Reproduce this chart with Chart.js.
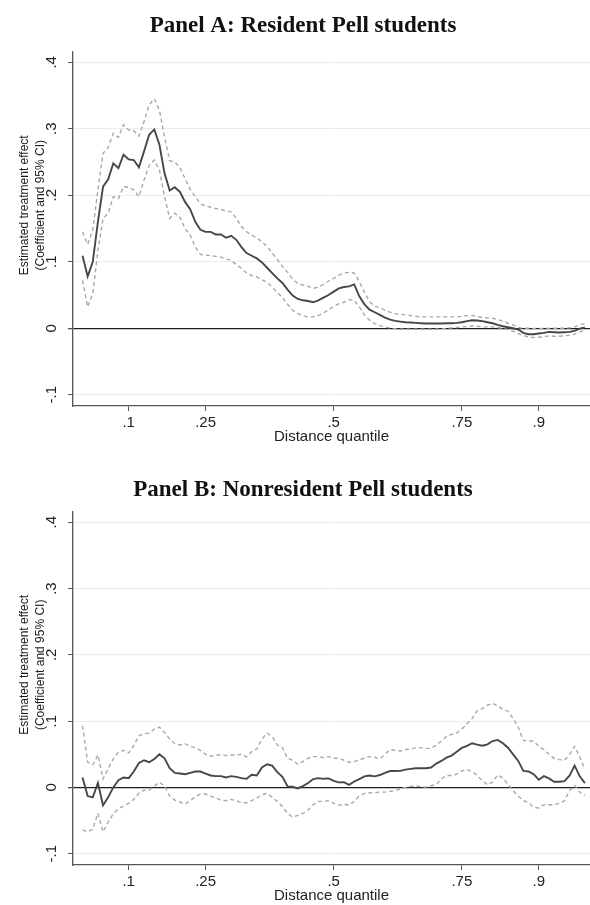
<!DOCTYPE html>
<html>
<head>
<meta charset="utf-8">
<script src="https://cdn.jsdelivr.net/npm/chart.js@4.4.1/dist/chart.umd.min.js"></script>
<style>
  body { margin: 0; background: #fff; }
  canvas { display: block; }
</style>
</head>
<body>
<canvas id="panelA" width="590" height="460"></canvas>
<canvas id="panelB" width="590" height="445"></canvas>
<script>
// distance quantiles (x)
const quantiles = [
  0.01, 0.02, 0.03, 0.04, 0.05, 0.06, 0.07, 0.08, 0.09, 0.10,
  0.11, 0.12, 0.13, 0.14, 0.15, 0.16, 0.17, 0.18, 0.19, 0.20,
  0.21, 0.22, 0.23, 0.24, 0.25, 0.26, 0.27, 0.28, 0.29, 0.30,
  0.31, 0.32, 0.33, 0.34, 0.35, 0.36, 0.37, 0.38, 0.39, 0.40,
  0.41, 0.42, 0.43, 0.44, 0.45, 0.46, 0.47, 0.48, 0.49, 0.50,
  0.51, 0.52, 0.53, 0.54, 0.55, 0.56, 0.57, 0.58, 0.59, 0.60,
  0.61, 0.62, 0.63, 0.64, 0.65, 0.66, 0.67, 0.68, 0.69, 0.70,
  0.71, 0.72, 0.73, 0.74, 0.75, 0.76, 0.77, 0.78, 0.79, 0.80,
  0.81, 0.82, 0.83, 0.84, 0.85, 0.86, 0.87, 0.88, 0.89, 0.90,
  0.91, 0.92, 0.93, 0.94, 0.95, 0.96, 0.97, 0.98, 0.99
];

const xTickValues = [0.1, 0.25, 0.5, 0.75, 0.9];
const yTickValues = [-0.1, 0, 0.1, 0.2, 0.3, 0.4];

// Panel A: resident Pell students
const residentCoef = [
  0.109, 0.078, 0.100, 0.160, 0.213, 0.224, 0.248, 0.241, 0.261, 0.254,
  0.253, 0.242, 0.266, 0.291, 0.299, 0.276, 0.233, 0.207, 0.212, 0.205,
  0.190, 0.179, 0.160, 0.148, 0.145, 0.145, 0.141, 0.141, 0.136, 0.139,
  0.133, 0.122, 0.113, 0.109, 0.105, 0.099, 0.091, 0.083, 0.075, 0.068,
  0.058, 0.049, 0.044, 0.042, 0.041, 0.039, 0.042, 0.046, 0.050, 0.055,
  0.060, 0.062, 0.063, 0.066, 0.048, 0.036, 0.028, 0.024, 0.020, 0.016,
  0.013, 0.011, 0.010, 0.009, 0.0085, 0.008, 0.0075, 0.007, 0.007, 0.007,
  0.007, 0.0075, 0.0075, 0.008, 0.009, 0.0106, 0.012, 0.0116, 0.0106, 0.009,
  0.0075, 0.005, 0.003, 0.0015, 0, -0.002, -0.007, -0.009, -0.009, -0.008,
  -0.007, -0.0055, -0.006, -0.0065, -0.006, -0.0055, -0.004, -0.0005, 0.001
];
const residentUpper = [
  0.145, 0.126, 0.148, 0.208, 0.263, 0.272, 0.293, 0.287, 0.306, 0.298,
  0.297, 0.289, 0.311, 0.336, 0.345, 0.328, 0.288, 0.252, 0.250, 0.242,
  0.225, 0.209, 0.198, 0.187, 0.184, 0.182, 0.180, 0.179, 0.176, 0.175,
  0.165, 0.153, 0.145, 0.140, 0.136, 0.130, 0.123, 0.113, 0.103, 0.093,
  0.084, 0.074, 0.067, 0.065, 0.063, 0.060, 0.062, 0.066, 0.071, 0.075,
  0.080, 0.083, 0.084, 0.083, 0.070, 0.054, 0.040, 0.033, 0.031, 0.027,
  0.024, 0.022, 0.021, 0.020, 0.019, 0.018, 0.017, 0.017, 0.017, 0.017,
  0.017, 0.017, 0.017, 0.017, 0.018, 0.019, 0.019, 0.018, 0.016, 0.0156,
  0.015, 0.013, 0.0106, 0.0075, 0.005, 0.001, 0, 0, -0.0005, -0.0005,
  -0.0005, 0, 0, 0, 0, 0.0005, 0.002, 0.005, 0.007
];
const residentLower = [
  0.072, 0.032, 0.052, 0.117, 0.165, 0.173, 0.198, 0.195, 0.213, 0.212,
  0.208, 0.198, 0.223, 0.245, 0.253, 0.238, 0.198, 0.165, 0.173, 0.167,
  0.150, 0.140, 0.122, 0.111, 0.110, 0.109, 0.108, 0.107, 0.104, 0.102,
  0.096, 0.090, 0.083, 0.079, 0.077, 0.073, 0.069, 0.062, 0.054, 0.046,
  0.036, 0.027, 0.022, 0.019, 0.017, 0.017, 0.019, 0.023, 0.028, 0.033,
  0.037, 0.039, 0.043, 0.042, 0.032, 0.020, 0.012, 0.007, 0.004, 0.002,
  0.0005, -0.001, -0.0015, -0.0015, -0.0015, -0.0015, -0.0015, -0.0015, -0.0015, -0.0015,
  -0.001, 0, 0.0005, 0.001, 0.002, 0.0025, 0.0035, 0.003, 0.002, 0.002,
  0.002, 0.001, -0.0005, -0.002, -0.0045, -0.008, -0.011, -0.013, -0.014, -0.0135,
  -0.013, -0.0115, -0.012, -0.012, -0.0115, -0.0105, -0.009, -0.0055, -0.003
];

// Panel B: nonresident Pell students
const nonresidentCoef = [
  0.015, -0.013, -0.015, 0.007, -0.027, -0.015, 0, 0.011, 0.015, 0.014,
  0.024, 0.037, 0.041, 0.038, 0.043, 0.050, 0.044, 0.029, 0.022, 0.021,
  0.020, 0.022, 0.024, 0.024, 0.021, 0.018, 0.017, 0.017, 0.015, 0.017,
  0.016, 0.014, 0.013, 0.019, 0.018, 0.030, 0.035, 0.033, 0.023, 0.016,
  0.0015, 0.001, -0.0015, 0.002, 0.0066, 0.0126, 0.014, 0.013, 0.0136, 0.010,
  0.0076, 0.008, 0.004, 0.009, 0.0126, 0.0167, 0.018, 0.0167, 0.0187, 0.022,
  0.0247, 0.0247, 0.025, 0.0268, 0.028, 0.029, 0.029, 0.029, 0.030, 0.036,
  0.040, 0.045, 0.048, 0.054, 0.0596, 0.0626, 0.0667, 0.0646, 0.063, 0.065,
  0.070, 0.0717, 0.0667, 0.060, 0.050, 0.040, 0.025, 0.024, 0.020, 0.0116,
  0.017, 0.0136, 0.0086, 0.0086, 0.0096, 0.0177, 0.033, 0.0167, 0.0066
];
const nonresidentUpper = [
  0.093, 0.038, 0.034, 0.049, 0.013, 0.028, 0.043, 0.053, 0.056, 0.052,
  0.063, 0.078, 0.081, 0.082, 0.088, 0.091, 0.083, 0.073, 0.066, 0.064,
  0.066, 0.062, 0.060, 0.056, 0.050, 0.047, 0.049, 0.049, 0.048, 0.049,
  0.049, 0.050, 0.046, 0.054, 0.058, 0.073, 0.082, 0.077, 0.064, 0.060,
  0.044, 0.041, 0.035, 0.039, 0.044, 0.0465, 0.0465, 0.045, 0.0465, 0.044,
  0.044, 0.041, 0.038, 0.039, 0.042, 0.044, 0.0465, 0.0455, 0.043, 0.050,
  0.057, 0.056, 0.055, 0.057, 0.058, 0.060, 0.060, 0.059, 0.059, 0.064,
  0.070, 0.077, 0.080, 0.082, 0.088, 0.096, 0.104, 0.116, 0.119, 0.124,
  0.127, 0.123, 0.118, 0.115, 0.104, 0.091, 0.071, 0.070, 0.070, 0.062,
  0.057, 0.050, 0.044, 0.042, 0.041, 0.050, 0.062, 0.046, 0.027
];
const nonresidentLower = [
  -0.064, -0.067, -0.063, -0.039, -0.067, -0.052, -0.040, -0.032, -0.028, -0.024,
  -0.018, -0.009, -0.004, -0.004, 0.002, 0.008, 0.002, -0.013, -0.019, -0.022,
  -0.025, -0.020, -0.014, -0.010, -0.010, -0.013, -0.016, -0.019, -0.020, -0.018,
  -0.020, -0.023, -0.023, -0.020, -0.016, -0.011, -0.009, -0.015, -0.021, -0.029,
  -0.039, -0.045, -0.042, -0.039, -0.034, -0.026, -0.021, -0.021, -0.020, -0.024,
  -0.027, -0.025, -0.027, -0.021, -0.013, -0.009, -0.008, -0.008, -0.007, -0.007,
  -0.006, -0.005, -0.002, 0, 0.0015, 0.0025, 0.001, 0.0005, 0.0025, 0.0045,
  0.013, 0.018, 0.018, 0.020, 0.025, 0.027, 0.024, 0.018, 0.010, 0.004,
  0.008, 0.019, 0.014, 0.005, -0.005, -0.013, -0.020, -0.023, -0.030, -0.031,
  -0.026, -0.026, -0.026, -0.024, -0.020, -0.005, 0.003, -0.007, -0.012
];

const sansFont = "'Liberation Sans', Arial, sans-serif";

function stataLabel(v) {
  // Stata style: no leading zero
  return String(Number(v.toFixed(2))).replace(/^(-?)0\./, "$1.");
}

function toPoints(values) {
  return quantiles.map((q, i) => ({ x: q, y: values[i] }));
}

// panel title and two-line y-axis title, drawn by hand so they sit where Stata put them
const panelText = {
  id: "panelText",
  afterDraw(chart, args, opts) {
    const ctx = chart.ctx;
    const yScale = chart.scales.y;

    ctx.save();
    ctx.fillStyle = "#111";
    ctx.textAlign = "center";
    ctx.textBaseline = "middle";
    ctx.font = "bold 23px 'Liberation Serif', 'Times New Roman', serif";
    ctx.fillText(opts.title, opts.titleX, opts.titleY);

    const cy = yScale.getPixelForValue(opts.yTitleAt);
    ctx.font = "12px " + sansFont;
    ctx.fillStyle = "#1a1a1a";
    opts.yTitle.forEach((line, i) => {
      ctx.save();
      ctx.translate(opts.yTitleX[i], cy);
      ctx.rotate(-Math.PI / 2);
      ctx.fillText(line, 0, 0);
      ctx.restore();
    });
    ctx.restore();
  }
};

function drawPanel(canvasId, title, coef, upper, lower, titleY, bottomPad) {
  const ctx = document.getElementById(canvasId);

  const ciStyle = {
    borderColor: "#a9a9a9",
    borderWidth: 1.4,
    borderDash: [4, 3],
    pointRadius: 0,
    tension: 0,
    fill: false
  };

  return new Chart(ctx, {
    type: "line",
    data: {
      datasets: [
        { label: "upper", data: toPoints(upper), ...ciStyle },
        { label: "lower", data: toPoints(lower), ...ciStyle },
        {
          label: "coef",
          data: toPoints(coef),
          borderColor: "#474747",
          borderWidth: 1.9,
          pointRadius: 0,
          tension: 0,
          fill: false
        }
      ]
    },
    options: {
      responsive: false,
      animation: false,
      devicePixelRatio: 1,

      layout: {
        padding: { top: 52, right: 0, bottom: bottomPad, left: 0 }
      },

      plugins: {
        legend: { display: false },
        tooltip: { enabled: false },
        panelText: {
          title,
          titleX: 303,
          titleY,
          yTitle: ["Estimated treatment effect", "(Coefficient and 95% CI)"],
          yTitleX: [25, 41],
          yTitleAt: 0.185
        }
      },

      scales: {
        x: {
          type: "linear",
          min: -0.0086,
          max: 1.0,
          afterBuildTicks: scale => {
            scale.ticks = xTickValues.map(v => ({ value: v }));
          },
          afterFit: scale => {
            scale.height = 40;
          },
          ticks: {
            callback: v => stataLabel(v),
            autoSkip: false,
            maxRotation: 0,
            padding: 3,
            color: "#222",
            font: { family: sansFont, size: 15 }
          },
          grid: {
            drawOnChartArea: false,
            drawTicks: true,
            tickLength: 5,
            tickColor: "#555"
          },
          border: { color: "#555", width: 1.3 },
          title: {
            display: true,
            text: "Distance quantile",
            color: "#222",
            padding: { top: 0, bottom: 0 },
            font: { family: sansFont, size: 15 }
          }
        },
        y: {
          type: "linear",
          min: -0.117,
          max: 0.4155,
          afterBuildTicks: scale => {
            scale.ticks = yTickValues.map(v => ({ value: v }));
          },
          afterFit: scale => {
            scale.width = 73;
          },
          ticks: {
            callback: v => stataLabel(v),
            minRotation: 90,
            maxRotation: 90,
            crossAlign: "center",
            padding: 7,
            color: "#222",
            font: { family: sansFont, size: 15 }
          },
          grid: {
            color: c => (c.tick && c.tick.value === 0 ? "#1e1e1e" : "#ececec"),
            lineWidth: c => (c.tick && c.tick.value === 0 ? 1.3 : 1),
            drawTicks: true,
            tickLength: 5,
            tickColor: "#555"
          },
          border: { color: "#555", width: 1.3 }
        }
      }
    },
    plugins: [panelText]
  });
}

drawPanel("panelA", "Panel A: Resident Pell students",
  residentCoef, residentUpper, residentLower, 26, 14);

drawPanel("panelB", "Panel B: Nonresident Pell students",
  nonresidentCoef, nonresidentUpper, nonresidentLower, 30, 0);
</script>
</body>
</html>
